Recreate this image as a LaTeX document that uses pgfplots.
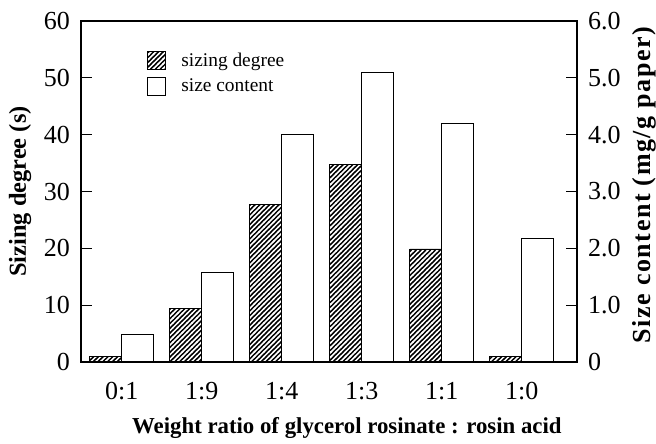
\documentclass[border=0pt]{standalone}
\usepackage{fontspec}
\setmainfont{Liberation Serif}
\usepackage{pgfplots}
\pgfplotsset{compat=1.18}
\usetikzlibrary{patterns}
\pgfdeclarepatternformonly{denselines}{\pgfqpoint{-1pt}{-1pt}}{\pgfqpoint{3.4pt}{3.4pt}}{\pgfqpoint{2.4pt}{2.4pt}}{%
  \pgfsetlinewidth{0.75pt}%
  \pgfpathmoveto{\pgfqpoint{-0.3pt}{-0.3pt}}%
  \pgfpathlineto{\pgfqpoint{2.7pt}{2.7pt}}%
  \pgfusepath{stroke}}
\tikzset{hatchbar/.style={draw=black, fill=black, postaction={pattern=denselines, pattern color=white}}}
\begin{document}
\begin{tikzpicture}
\pgfplotsset{
  common/.style={
    scale only axis, width=248pt, height=170.5pt,
    xmin=-0.51, xmax=5.69,
    ymin=0,
    axis on top,
    major tick length=5.5pt,
    tick align=inside,
    tick style={black, line width=0.6pt},
    axis line style={line width=0.6pt},
    ticklabel style={font=\fontsize{13}{15}\selectfont},
    /pgf/number format/assume math mode=true,
    ybar, bar width=16pt,
  }
}
\begin{axis}[common,
  ymax=60, ytick={0,10,20,30,40,50,60},
  xtick={0,1,2,3,4,5},
  xticklabels={0:1,1:9,1:4,1:3,1:1,1:0},
  ytick pos=left,
  xtick style={draw=none},
  xtick pos=bottom,
  xticklabel style={yshift=-1pt},
  yticklabel style={xshift=-2pt},
  ylabel={Sizing degree (s)},
  ylabel style={font=\fontsize{12.2}{14}\selectfont\bfseries, at={(axis description cs:0,0.5)}, anchor=center, yshift=30.5pt},
  xlabel={Weight ratio of glycerol rosinate : rosin acid},
  xlabel style={font=\fontsize{11.4}{13}\selectfont\bfseries, at={(0.536,0)}, anchor=north, yshift=-24pt},
]
\addplot[hatchbar, bar shift=-8pt] coordinates {(0,1.05) (1,9.5) (2,27.8) (3,34.7) (4,19.9) (5,0.9)};
\end{axis}
\begin{axis}[common,
  ymax=6, ytick={0,1,2,3,4,5,6},
  yticklabels={0,1.0,2.0,3.0,4.0,5.0,6.0},
  yticklabel style={xshift=2pt},
  axis y line*=right,
  axis x line*=bottom,
  xtick=\empty,
  ylabel={Size content (mg/g paper)},
  ylabel style={font=\fontsize{13}{15}\selectfont\bfseries\addfontfeature{LetterSpace=6}, at={(axis description cs:1,0.519)}, anchor=center, yshift=-33.5pt},
  legend style={draw=none, fill=none, at={(0.133,0.912)}, anchor=north west, font=\fontsize{9.7}{11}\selectfont, row sep=3.5pt, column sep=7.5pt, inner sep=0pt, nodes={inner sep=0pt}},
  legend cell align=left,
  legend image code/.code={\draw[#1, line width=0.5pt] (0pt,-4.5pt) rectangle (9pt,4.5pt);},
]
\addlegendimage{hatchbar}
\addlegendentry{sizing degree}
\addplot[draw=black, fill=white, bar shift=8pt] coordinates {(0,0.49) (1,1.58) (2,4.0) (3,5.09) (4,4.19) (5,2.18)};
\addlegendentry{size content}
\coordinate (bl) at (rel axis cs:0,0);
\coordinate (tr) at (rel axis cs:1,1);
\end{axis}
\pgfresetboundingbox
\path[use as bounding box] ([shift={(-40.5pt,-40.5pt)}]bl) rectangle ([shift={(39.5pt,10.5pt)}]tr);
\end{tikzpicture}
\end{document}
